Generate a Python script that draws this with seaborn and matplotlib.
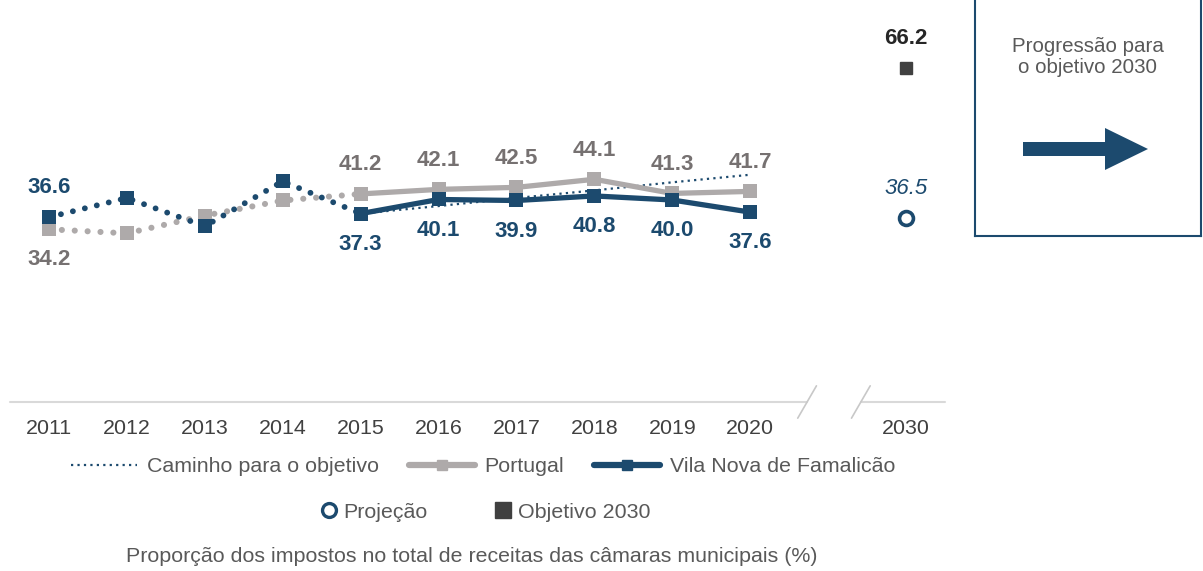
import numpy as np
import pandas as pd
import matplotlib
matplotlib.use("Agg")
import matplotlib.pyplot as plt
import seaborn as sns
from matplotlib.lines import Line2D

# Data
years = ["2011", "2012", "2013", "2014", "2015", "2016", "2017", "2018", "2019", "2020"]
portugal = [34.2, 33.4, 36.9, 39.9, 41.2, 42.1, 42.5, 44.1, 41.3, 41.7]
famalicao = [36.6, 40.4, 34.8, 43.7, 37.3, 40.1, 39.9, 40.8, 40.0, 37.6]
caminho_years = ["2015", "2016", "2017", "2018", "2019", "2020"]
caminho = [37.3, 38.8, 40.4, 41.9, 43.5, 45.0]
target_year = "2030"
projecao = 36.5
objetivo = 66.2

BLUE = "#1C4A6E"
GRAY = "#AEAAAA"
GRAY_TXT = "#767171"
DARK = "#404040"
TXT = "#595959"
FS = 15.4

sns.set_style("white")
plt.rcParams["font.family"] = ["Liberation Sans", "DejaVu Sans"]

tick_labels = years + [target_year]
pos = {y: i for i, y in enumerate(years)}
pos[target_year] = len(years) + 1

df = pd.DataFrame({"x": [pos[y] for y in years], "portugal": portugal, "famalicao": famalicao})
hist = df[df["x"] <= pos["2015"]]
recent = df[df["x"] >= pos["2015"]]
cam = pd.DataFrame({"x": [pos[y] for y in caminho_years], "v": caminho})

fig = plt.figure(figsize=(12.03, 5.71), dpi=100)
ax = fig.add_axes([10 / 1203, 1 - 402 / 571, 935 / 1203, 402 / 571])

dot = (0, (0.01, 2.1))
# historic dotted segments
sns.lineplot(data=hist, x="x", y="portugal", ax=ax, color=GRAY, lw=4.4,
             linestyle=dot, dash_capstyle="round", zorder=2)
sns.lineplot(data=hist, x="x", y="famalicao", ax=ax, color=BLUE, lw=4.2,
             linestyle=dot, dash_capstyle="round", zorder=3)
# path to target
sns.lineplot(data=cam, x="x", y="v", ax=ax, color=BLUE, lw=1.6,
             linestyle=(0, (1, 1.9)), zorder=4)
# solid recent segments
sns.lineplot(data=recent, x="x", y="portugal", ax=ax, color=GRAY, lw=3.8, zorder=5)
sns.lineplot(data=recent, x="x", y="famalicao", ax=ax, color=BLUE, lw=3.8, zorder=6)
# markers
sns.scatterplot(data=df, x="x", y="portugal", ax=ax, color=GRAY, marker="s",
                s=105, linewidth=0, zorder=7)
sns.scatterplot(data=df, x="x", y="famalicao", ax=ax, color=BLUE, marker="s",
                s=105, linewidth=0, zorder=8)
ax.plot([pos[target_year]], [projecao], marker="o", ms=10, mfc="white",
        mec=BLUE, mew=2.6, ls="none", zorder=9)
ax.plot([pos[target_year]], [objetivo], marker="s", ms=9, color=DARK,
        ls="none", zorder=9)

# value labels
for i, (p, f) in enumerate(zip(portugal, famalicao)):
    dp = -22 if i == 0 else 21
    df_off = 21 if i == 0 else -22
    if i in (0,) or i >= pos["2015"]:
        ax.annotate(f"{p:.1f}", (i, p), xytext=(0, dp), textcoords="offset points",
                    ha="center", va="center", fontsize=16, fontweight="bold", color=GRAY_TXT)
        ax.annotate(f"{f:.1f}", (i, f), xytext=(0, df_off), textcoords="offset points",
                    ha="center", va="center", fontsize=16, fontweight="bold", color=BLUE)
ax.annotate(f"{objetivo:.1f}", (pos[target_year], objetivo), xytext=(0, 21),
            textcoords="offset points", ha="center", va="center", fontsize=16,
            fontweight="bold", color="#262626")
ax.annotate(f"{projecao:.1f}", (pos[target_year], projecao), xytext=(0, 21),
            textcoords="offset points", ha="center", va="center", fontsize=16,
            fontstyle="italic", color=BLUE)

# axis with break
ax.set_xlim(-0.5, len(tick_labels) + 0.5)
ax.set_ylim(0, 79.6)
sns.despine(ax=ax, left=True, bottom=True)
ax.set_yticks([])
ax.set_xticks([pos[y] for y in tick_labels])
ax.set_xticklabels(tick_labels, fontsize=FS, color="#404040")
ax.tick_params(axis="x", length=0, pad=12)
ax.set_xlabel("")
ax.set_ylabel("")
b1, b2 = 9.73, 10.42
ax.plot([-0.5, b1], [0, 0], color="#D9D9D9", lw=1.5, clip_on=False)
ax.plot([b2, 11.5], [0, 0], color="#D9D9D9", lw=1.5, clip_on=False)
for b in (b1, b2):
    ax.plot([b - 0.12, b + 0.12], [-3.2, 3.2], color="#C8C8C8", lw=1.2, clip_on=False)

# legends
h1 = [
    Line2D([], [], color=BLUE, lw=1.6, linestyle=(0, (1, 1.9))),
    Line2D([], [], color=GRAY, lw=4.5, marker="s", ms=7),
    Line2D([], [], color=BLUE, lw=4.5, marker="s", ms=7),
]
leg1 = fig.legend(h1, ["Caminho para o objetivo", "Portugal", "Vila Nova de Famalicão"],
                  loc="center", bbox_to_anchor=(483 / 1203, 1 - 467 / 571), ncol=3,
                  frameon=False, fontsize=FS, handlelength=3.1, handletextpad=0.45,
                  columnspacing=1.4)
for t in leg1.get_texts():
    t.set_color(TXT)
h2 = [
    Line2D([], [], ls="none", marker="o", ms=10, mfc="white", mec=BLUE, mew=2.4),
    Line2D([], [], ls="none", marker="s", ms=11, color=DARK),
]
leg2 = fig.legend(h2, ["Projeção", "Objetivo 2030"], loc="center",
                  bbox_to_anchor=(484 / 1203, 1 - 512 / 571), ncol=2, frameon=False,
                  fontsize=FS, handlelength=1.0, handletextpad=0.2, columnspacing=3.0)
for t in leg2.get_texts():
    t.set_color(TXT)

fig.text(472 / 1203, 1 - 557 / 571,
         "Proporção dos impostos no total de receitas das câmaras municipais (%)",
         ha="center", va="center", fontsize=FS, color=TXT)

# side box with arrow
bx = fig.add_axes([975 / 1203, 1 - 236 / 571, 226 / 1203, 238 / 571])
bx.set_xlim(0, 226)
bx.set_ylim(236, -2)
bx.set_xticks([])
bx.set_yticks([])
for s in bx.spines.values():
    s.set_color(BLUE)
    s.set_linewidth(1.5)
bx.text(113, 57, "Progressão para\no objetivo 2030", ha="center", va="center",
        fontsize=14.8, color=TXT, linespacing=1.12)
arrow_x = [48, 130, 130, 173, 130, 130, 48]
arrow_y = [142, 142, 128, 149, 170, 156, 156]
bx.fill(arrow_x, arrow_y, color=BLUE, lw=0)

fig.savefig("out.png", dpi=100)
